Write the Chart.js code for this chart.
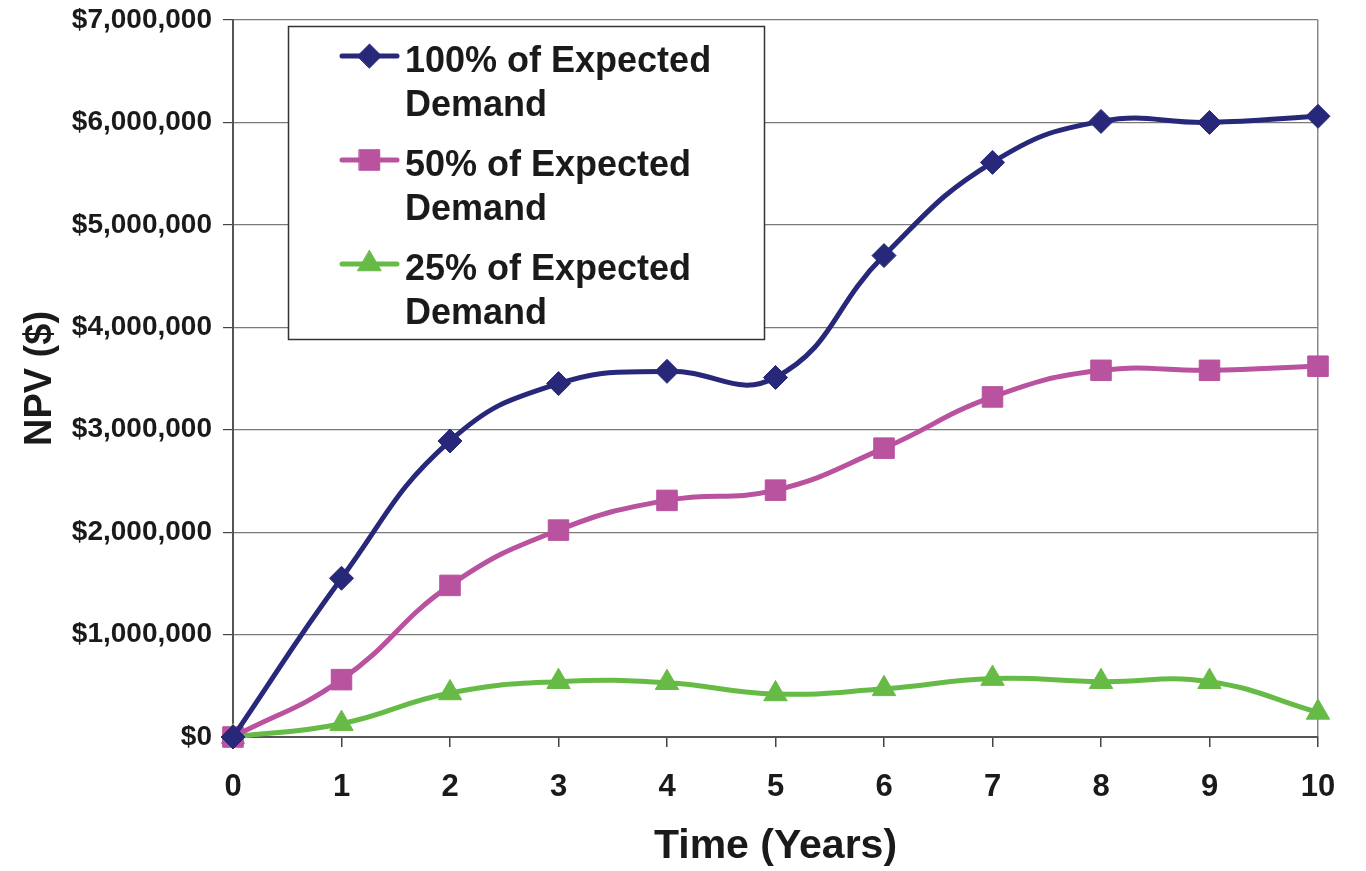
<!DOCTYPE html>
<html>
<head>
<meta charset="utf-8">
<title>NPV by Demand Scenario</title>
<script src="https://cdn.jsdelivr.net/npm/chart.js@4.4.1/dist/chart.umd.min.js"></script>
<style>
  html, body { margin: 0; padding: 0; background: #ffffff; }
  #wrap { width: 1366px; height: 871px; position: relative; }
</style>
</head>
<body>
<div id="wrap"><canvas id="npvChart" width="1366" height="871"></canvas></div>
<script>
// Years since start
const years = ['0', '1', '2', '3', '4', '5', '6', '7', '8', '9', '10'];

// Net present value ($) for each demand scenario
const npvFull = [0, 1550000, 2890000, 3450000, 3570000, 3510000, 4700000, 5610000, 6010000, 6000000, 6060000];
const npvHalf = [0, 560000, 1480000, 2020000, 2310000, 2410000, 2820000, 3320000, 3580000, 3580000, 3620000];
const npvQuarter = [0, 130000, 430000, 540000, 530000, 420000, 470000, 570000, 540000, 540000, 240000];

// Legend text, one entry per series, split over two lines
const seriesNames = [
  ['100% of Expected', 'Demand'],
  ['50% of Expected', 'Demand'],
  ['25% of Expected', 'Demand']
];

// Y axis range and tick step
const yMin = 0;
const yMax = 7000000;
const yStep = 1000000;

const FONT = '"Liberation Sans", Arial, Helvetica, sans-serif';
const TEXT = '#1a1a1a';

const navy = '#27287a';
const magenta = '#b9529f';
const green = '#66bb46';

// Boxed legend drawn inside the plot area, near its top-left corner
const boxLegend = {
  id: 'boxLegend',
  afterDatasetsDraw(chart, args, opts) {
    const { ctx, chartArea } = chart;
    const x = chartArea.left + opts.offsetX;
    const y = chartArea.top + opts.offsetY;
    ctx.save();
    ctx.fillStyle = '#ffffff';
    ctx.fillRect(x, y, opts.width, opts.height);
    ctx.strokeStyle = '#333333';
    ctx.lineWidth = 1.5;
    ctx.strokeRect(x + 0.5, y + 0.5, opts.width, opts.height);

    chart.data.datasets.forEach((ds, i) => {
      const lines = seriesNames[i];
      const baseY = y + opts.firstBaseline + i * opts.itemGap;
      const symY = baseY - 16;
      const sx0 = x + opts.symbolLeft;
      const sx1 = sx0 + opts.symbolWidth;
      ctx.strokeStyle = ds.borderColor;
      ctx.lineWidth = ds.borderWidth;
      ctx.lineCap = 'round';
      ctx.beginPath();
      ctx.moveTo(sx0, symY);
      ctx.lineTo(sx1, symY);
      ctx.stroke();
      ctx.fillStyle = ds.pointBackgroundColor;
      ctx.strokeStyle = ds.pointBorderColor;
      ctx.lineWidth = ds.pointBorderWidth;
      Chart.helpers.drawPoint(ctx, {
        pointStyle: ds.pointStyle,
        radius: ds.pointRadius,
        rotation: 0,
        borderWidth: ds.pointBorderWidth
      }, (sx0 + sx1) / 2, symY);

      ctx.fillStyle = TEXT;
      ctx.font = 'bold 36px ' + FONT;
      ctx.textAlign = 'left';
      ctx.textBaseline = 'alphabetic';
      lines.forEach((ln, j) => {
        ctx.fillText(ln, x + opts.textLeft, baseY + j * opts.lineGap);
      });
    });
    ctx.restore();
  }
};

const makeSeries = (label, data, color, style, radius) => ({
  label,
  data,
  borderColor: color,
  backgroundColor: color,
  borderWidth: 5,
  pointStyle: style,
  pointRadius: radius,
  pointHoverRadius: radius,
  pointBackgroundColor: color,
  pointBorderColor: color,
  pointBorderWidth: 1,
  tension: 0.45,
  fill: false
});

new Chart(document.getElementById('npvChart'), {
  type: 'line',
  data: {
    labels: years,
    datasets: [
      makeSeries(seriesNames[0].join(' '), npvFull, navy, 'rectRot', 12),
      makeSeries(seriesNames[1].join(' '), npvHalf, magenta, 'rect', 14.5),
      makeSeries(seriesNames[2].join(' '), npvQuarter, green, 'triangle', 13.5)
    ]
  },
  options: {
    responsive: false,
    animation: false,
    clip: false,
    layout: { padding: { top: 20, right: 48, left: 0, bottom: 0 } },
    plugins: {
      legend: { display: false },
      tooltip: { enabled: false },
      boxLegend: {
        offsetX: 55, offsetY: 6, width: 476, height: 313,
        symbolLeft: 54, symbolWidth: 55, textLeft: 117,
        firstBaseline: 46, itemGap: 104, lineGap: 44
      }
    },
    scales: {
      x: {
        type: 'category',
        offset: false,
        afterFit(scale) {
          scale.height = 134;
          scale.paddingLeft = 0;
          scale.paddingRight = 0;
        },
        grid: {
          drawOnChartArea: true,
          color: (c) => (c.index === years.length - 1 ? '#8a8a8a' : 'rgba(0,0,0,0)'),
          tickColor: '#444444',
          tickLength: 10,
          lineWidth: 1.5
        },
        border: { display: true, color: '#555555', width: 2 },
        ticks: {
          color: TEXT,
          padding: 22,
          font: { family: FONT, size: 31, weight: 'bold' },
          maxRotation: 0,
          autoSkip: false
        },
        title: {
          display: true,
          text: 'Time (Years)',
          color: TEXT,
          font: { family: FONT, size: 41, weight: 'bold' },
          padding: { top: 0, bottom: 0 }
        }
      },
      y: {
        min: yMin,
        max: yMax,
        afterFit(scale) {
          scale.width = 233;
          scale.paddingTop = 0;
          scale.paddingBottom = 0;
        },
        grid: {
          color: '#7a7a7a',
          tickColor: '#444444',
          tickLength: 10,
          lineWidth: 1.2
        },
        border: { display: true, color: '#555555', width: 2 },
        ticks: {
          stepSize: yStep,
          color: TEXT,
          padding: 11,
          font: { family: FONT, size: 28, weight: 'bold' },
          callback: (v) => '$' + Number(v).toLocaleString('en-US')
        },
        title: {
          display: true,
          text: 'NPV ($)',
          color: TEXT,
          font: { family: FONT, size: 38, weight: 'bold' },
          padding: { top: 18, bottom: 0 }
        }
      }
    }
  },
  plugins: [boxLegend]
});
</script>
</body>
</html>
